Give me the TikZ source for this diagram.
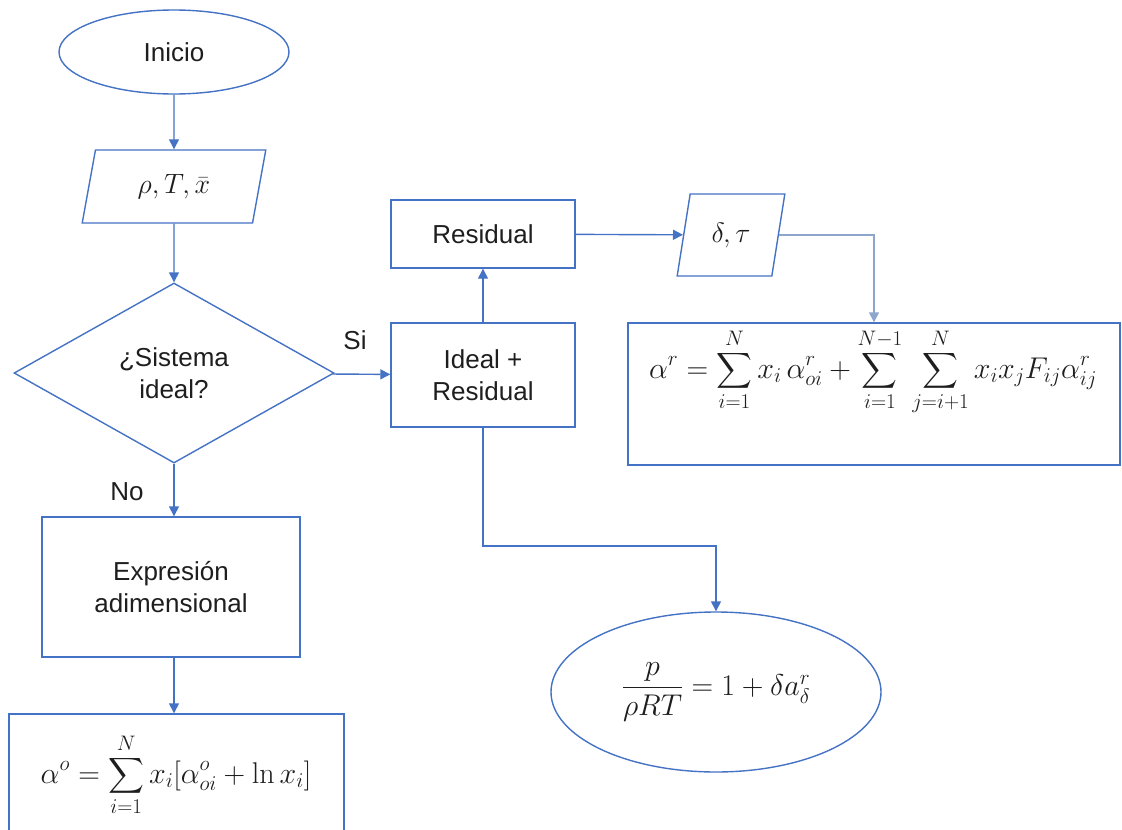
\RequirePackage{fix-cm}
\documentclass[tikz,border=0pt]{standalone}
\usepackage{amsmath}
\usepackage[no-math]{fontspec}
\setmainfont{Liberation Sans}
\usetikzlibrary{shapes.geometric,arrows.meta}
\definecolor{ob}{HTML}{4472C4}
\definecolor{lb}{HTML}{8EA5CC}
\definecolor{tx}{HTML}{1E1E1E}
\begin{document}
\begin{tikzpicture}[x=1pt,y=-1pt,
 base/.style={draw=ob, line width=1.4pt, text=tx, font=\fontsize{26}{32}\selectfont, align=center, inner sep=0pt},
 box/.style={base, rectangle},
 oval/.style={base, ellipse},
 para/.style={base, trapezium, trapezium left angle=76, trapezium right angle=104, trapezium stretches=true},
 dec/.style={base, diamond},
 lbl/.style={text=tx, font=\fontsize{26}{32}\selectfont, inner sep=0pt},
 mathf/.style={text=tx, font=\fontsize{30}{36}\selectfont, inner sep=0pt},
 arr/.style={draw=ob, line width=1.4pt, -{Triangle[length=10pt,width=10pt]}},
 arrl/.style={draw=lb, line width=1.4pt, -{Triangle[length=10pt,width=10pt]}},
 ]
\useasboundingbox (0,0) rectangle (1122,830);
\begin{scope}
\clip (0,0) rectangle (1122,830);
\node[oval, minimum width=230pt, minimum height=84pt] (inicio) at (174,52) {Inicio};
\node[para, minimum width=185pt, minimum height=73pt, font=\fontsize{28}{32}\selectfont] (in1) at (174,186.5) {$\rho, T, \bar{x}$};
\node[dec, minimum width=320pt, minimum height=180pt] (q) at (174,373) {¿Sistema\\ideal?};
\node[box, minimum width=184pt, minimum height=104pt] (ir) at (483,375) {Ideal +\\Residual};
\node[box, minimum width=184pt, minimum height=68pt] (res) at (483,234) {Residual};
\node[para, minimum width=108pt, minimum height=82pt, font=\fontsize{28}{32}\selectfont] (in2) at (731,235) {$\delta,\tau$};
\node[box, minimum width=492pt, minimum height=142pt] (ar) at (874,394) {};
\node[mathf] (arf) at (873,372) {$\displaystyle \alpha^r = \sum_{i=1}^{N} x_i\,\alpha_{oi}^r + \sum_{i=1}^{N-1}\,\sum_{j=i+1}^{N} x_i x_j F_{ij}\alpha_{ij}^r$};
\node[box, minimum width=258pt, minimum height=140pt] (expr) at (171,587) {Expresión\\adimensional};
\node[box, minimum width=335pt, minimum height=140pt] (ao) at (176.5,784) {};
\node[mathf] (aof) at (176,775) {$\displaystyle \alpha^o = \sum_{i=1}^{N} x_i[\alpha_{oi}^o + \ln x_i]$};
\node[oval, minimum width=330pt, minimum height=160pt, font=\fontsize{30}{36}\selectfont] (pr) at (716,692) {$\dfrac{p}{\rho RT} = 1+\delta a_\delta^r$};
\node[lbl] (si) at (355,340) {Si};
\node[lbl] (no) at (127,492) {No};

\draw[arr] (inicio) -- (in1);
\draw[arr] (in1) -- (q);
\draw[arr] (q) -- (ir);
\draw[arr] (ir) -- (res);
\draw[arr] (res) -- (in2);
\draw[arrl] (in2.east) -| (ar.north);
\draw[arr] (ir.south) -- (ir.south |- 0,546) -| (pr.north);
\draw[arr] (q.south) -- (q.south |- expr.north);
\draw[arr] (expr.south -| q.south) -- (q.south |- ao.north);
\end{scope}
\end{tikzpicture}
\end{document}
